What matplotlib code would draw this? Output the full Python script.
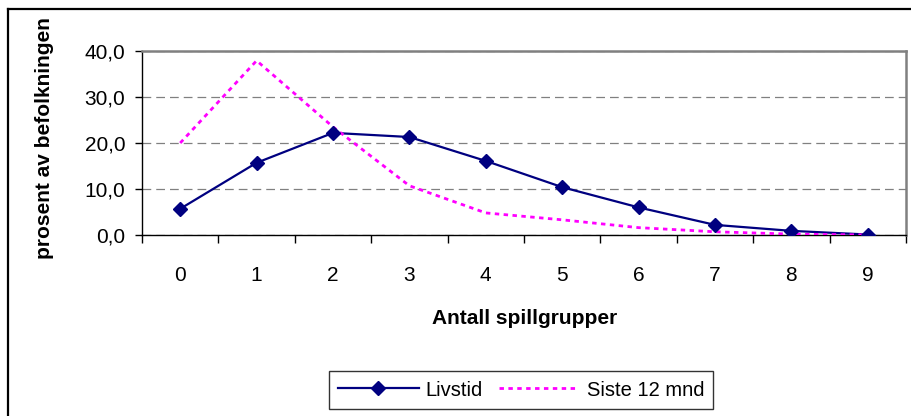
import matplotlib
matplotlib.use("Agg")
import matplotlib.pyplot as plt
from matplotlib.lines import Line2D

plt.rcParams["font.family"] = ["Liberation Sans", "DejaVu Sans"]

# data
grupper = [0, 1, 2, 3, 4, 5, 6, 7, 8, 9]
livstid = [5.7, 15.7, 22.2, 21.3, 16.1, 10.4, 6.0, 2.2, 0.9, 0.1]
siste_12 = [20.0, 37.9, 23.5, 10.7, 4.8, 3.3, 1.6, 0.7, 0.2, 0.0]
y_ticks = [0, 10, 20, 30, 40]
y_labels = ["0,0", "10,0", "20,0", "30,0", "40,0"]

W, H = 912, 416
fig = plt.figure(figsize=(W / 100, H / 100), dpi=100)

# plot area in pixels: left 142, right 906, top 51, bottom 235
ax = fig.add_axes([142 / W, 1 - 235 / H, 764 / W, 184 / H])

navy = "#000080"
magenta = "#FF00FF"

ax.plot(grupper, livstid, color=navy, lw=1.6, zorder=3)
ax.plot(grupper, siste_12, color=magenta, lw=2.0,
        linestyle=(0, (1.6, 1.6)), zorder=4)
ax.plot(grupper, livstid, linestyle="none", marker="D", ms=7,
        color=navy, zorder=5)

ax.set_xlim(-0.5, 9.5)
ax.set_ylim(0, 40)

ax.set_yticks(y_ticks)
ax.set_yticklabels(y_labels, fontsize=15)
ax.tick_params(axis="y", length=5, width=1, pad=7, direction="out")

ax.set_xticks(grupper)
ax.set_xticklabels([str(g) for g in grupper], fontsize=15)
ax.set_xticks([g - 0.5 for g in grupper] + [9.5], minor=True)
ax.tick_params(axis="x", which="major", length=0, pad=22)
ax.tick_params(axis="x", which="minor", length=6, width=1, direction="out")

ax.yaxis.grid(True, color="#808080", lw=0.9, linestyle=(0, (7, 4)))
ax.set_axisbelow(True)

for side in ["top", "right"]:
    ax.spines[side].set_color("#808080")
    ax.spines[side].set_linewidth(1.8)
for side in ["left", "bottom"]:
    ax.spines[side].set_color("black")
    ax.spines[side].set_linewidth(1.0)

fig.text(525 / W, 1 - 318 / H, "Antall spillgrupper", fontsize=15,
         fontweight="bold", ha="center", va="center")
fig.text(45 / W, 1 - 138 / H, "prosent av befolkningen", fontsize=15,
         fontweight="bold", ha="center", va="center", rotation=90)

# legend
handles = [
    Line2D([], [], color=navy, lw=1.6, marker="D", ms=7),
    Line2D([], [], color=magenta, lw=2.0, linestyle=(0, (1.6, 1.6))),
]
leg = fig.legend(handles, ["Livstid", "Siste 12 mnd"], ncol=2,
                 loc="center", bbox_to_anchor=(521 / W, 1 - 390 / H),
                 fontsize=14.5, frameon=True, fancybox=False,
                 handlelength=4.0, handletextpad=0.35, columnspacing=0.8,
                 borderpad=0.45, borderaxespad=0)
leg.get_frame().set_edgecolor("black")
leg.get_frame().set_linewidth(1.0)

# outer chart frame (top and left edges)
fig.add_artist(Line2D([8 / W, 8 / W], [1 - 9 / H, 0], color="black", lw=1.6))
fig.add_artist(Line2D([8 / W, 1], [1 - 9 / H, 1 - 9 / H], color="black", lw=1.6))

fig.savefig("out.png", dpi=100)
